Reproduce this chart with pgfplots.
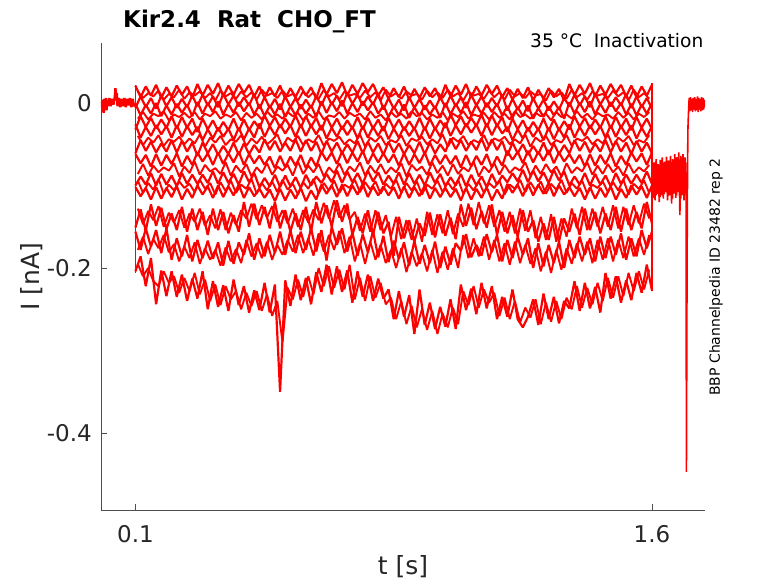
\documentclass[border=0pt]{standalone}
\usepackage{pgfplots}
\usepackage{pgfplotstable}
\pgfplotsset{compat=1.18}
\usepackage{fontspec}
\setmainfont{DejaVu Sans}
\definecolor{axgray}{RGB}{77,77,77}
\definecolor{txtgray}{RGB}{38,38,38}
\pgfplotsset{trace/.style={color=red, line width=2.2pt, line join=bevel, mark=none}}
\begin{document}
% currents in pA, time in ms
\pgfplotstableread{
t A B C D E F G H I J K L
100 21 -6 -1 -32 -26 -61 -62 -100 -102 -151 -156 -204
115 7 8 -15 -16 -42 -45 -73 -89 -113 -129 -178 -186
130 20 -5 -2 -29 -29 -58 -63 -99 -103 -155 -152 -222
145 9 6 -13 -18 -40 -47 -77 -85 -117 -123 -174 -188
160 22 -7 0 -31 -27 -60 -62 -100 -102 -149 -154 -244
175 6 9 -16 -20 -38 -49 -76 -86 -116 -127 -182 -203
190 19 -4 -3 -30 -28 -59 -63 -99 -103 -153 -152 -234
205 8 7 -14 -16 -42 -45 -74 -88 -114 -134 -190 -204
220 21 -6 -1 -31 -27 -60 -61 -101 -101 -154 -164 -235
235 10 5 -12 -17 -41 -46 -77 -85 -117 -126 -186 -208
250 20 -5 -2 -30 -28 -59 -64 -98 -104 -156 -160 -240
265 6 9 -16 -19 -39 -48 -75 -87 -115 -128 -192 -213
280 23 -4 1 -35 -29 -64 -60 -98 -100 -154 -166 -237
295 9 10 -13 -19 -45 -48 -71 -87 -111 -132 -188 -204
310 22 -3 0 -32 -32 -61 -61 -97 -101 -160 -167 -250
325 11 8 -11 -21 -43 -50 -75 -83 -115 -128 -189 -216
340 24 -5 2 -34 -30 -63 -60 -98 -100 -154 -169 -247
355 8 11 -14 -23 -41 -52 -74 -84 -114 -132 -197 -221
370 21 -2 -1 -33 -31 -62 -61 -97 -101 -158 -167 -252
385 10 9 -12 -19 -45 -48 -72 -86 -112 -136 -195 -214
400 23 -4 1 -34 -30 -63 -59 -99 -99 -156 -169 -245
415 12 7 -10 -20 -44 -49 -75 -83 -115 -120 -184 -222
430 22 -3 0 -33 -31 -62 -62 -96 -102 -150 -158 -254
445 8 11 -14 -22 -42 -51 -73 -85 -113 -122 -190 -227
460 20 -7 -2 -31 -25 -60 -64 -102 -104 -148 -164 -251
475 6 7 -16 -15 -41 -44 -75 -91 -115 -126 -186 -218
490 19 -6 -3 -28 -28 -57 -65 -101 -105 -152 -160 -254
505 8 5 -14 -17 -39 -46 -79 -87 -119 -120 -182 -220
520 21 -8 -1 -30 -26 -59 -64 -102 -104 -152 -156 -350
535 5 8 -17 -19 -37 -48 -78 -88 -118 -130 -184 -215
550 18 -5 -4 -29 -27 -58 -65 -101 -105 -156 -154 -246
565 7 6 -15 -15 -41 -44 -76 -90 -116 -134 -182 -208
580 20 -7 -2 -30 -26 -59 -63 -103 -103 -154 -156 -239
595 9 4 -13 -16 -40 -45 -79 -87 -119 -126 -178 -212
610 19 -6 -3 -29 -27 -58 -66 -100 -106 -156 -152 -244
625 5 8 -17 -18 -38 -47 -77 -89 -117 -120 -180 -205
640 24 -3 2 -33 -27 -62 -59 -97 -99 -146 -154 -229
655 10 11 -12 -17 -43 -46 -70 -86 -110 -124 -191 -196
670 23 -2 1 -30 -30 -59 -60 -96 -100 -150 -150 -232
685 12 9 -10 -19 -41 -48 -74 -82 -114 -118 -172 -198
700 25 -4 3 -32 -28 -61 -59 -97 -99 -144 -152 -229
715 9 12 -13 -21 -39 -50 -73 -83 -113 -122 -180 -203
730 22 -1 0 -31 -29 -60 -60 -96 -100 -160 -157 -242
745 11 10 -11 -17 -43 -46 -71 -85 -111 -138 -185 -204
760 24 -3 2 -32 -28 -61 -58 -98 -98 -158 -159 -235
775 13 8 -9 -18 -42 -47 -74 -82 -114 -130 -181 -208
790 23 -2 1 -31 -29 -60 -61 -95 -101 -160 -155 -240
805 9 12 -13 -20 -40 -49 -72 -84 -112 -132 -187 -213
820 19 -8 -3 -34 -28 -63 -61 -99 -101 -158 -161 -237
835 5 6 -17 -18 -44 -47 -72 -88 -112 -144 -193 -226
850 18 -7 -4 -31 -31 -60 -62 -98 -102 -185 -167 -262
865 7 4 -15 -20 -42 -49 -76 -84 -116 -138 -189 -228
880 20 -9 -2 -33 -29 -62 -61 -99 -101 -164 -169 -259
895 4 7 -18 -22 -40 -51 -75 -85 -115 -142 -197 -233
910 17 -6 -5 -32 -30 -61 -62 -98 -102 -168 -167 -280
925 6 5 -16 -18 -44 -47 -73 -87 -113 -146 -195 -226
940 19 -8 -3 -33 -29 -62 -60 -100 -100 -161 -172 -269
955 8 3 -14 -19 -43 -48 -76 -84 -116 -133 -194 -242
970 18 -7 -4 -32 -30 -61 -63 -97 -103 -163 -168 -274
985 4 7 -18 -21 -41 -50 -74 -86 -114 -135 -200 -247
1000 22 -5 0 -30 -24 -59 -63 -101 -103 -161 -174 -271
1015 8 9 -14 -14 -40 -43 -74 -90 -114 -139 -196 -238
1030 21 -4 -1 -27 -27 -56 -64 -100 -104 -165 -170 -274
1045 10 7 -12 -16 -38 -45 -78 -86 -118 -123 -179 -220
1060 23 -6 1 -29 -25 -58 -63 -101 -103 -149 -159 -251
1075 7 10 -15 -18 -36 -47 -77 -87 -117 -127 -187 -225
1090 20 -3 -2 -28 -26 -57 -64 -100 -104 -153 -172 -256
1105 9 8 -13 -14 -40 -43 -75 -89 -115 -131 -185 -218
1120 22 -5 0 -29 -25 -58 -62 -102 -102 -151 -159 -249
1135 11 6 -11 -15 -39 -44 -78 -86 -118 -123 -181 -222
1150 21 -4 -1 -28 -26 -57 -65 -99 -105 -160 -160 -262
1165 7 10 -15 -17 -37 -46 -76 -88 -116 -132 -192 -235
1180 18 -9 -4 -35 -29 -64 -58 -96 -98 -158 -166 -259
1195 4 5 -18 -19 -45 -48 -69 -85 -109 -136 -188 -226
1210 17 -8 -5 -32 -32 -61 -59 -95 -99 -162 -162 -262
1225 6 3 -16 -21 -43 -50 -73 -81 -113 -130 -184 -272
1240 19 -10 -3 -34 -30 -63 -58 -96 -98 -156 -164 -259
1255 3 6 -19 -23 -41 -52 -72 -82 -112 -142 -200 -238
1270 16 -7 -6 -33 -31 -62 -59 -95 -99 -168 -170 -269
1285 5 4 -17 -19 -45 -48 -70 -84 -110 -146 -198 -231
1300 18 -9 -4 -34 -30 -63 -57 -97 -97 -166 -172 -262
1315 7 2 -15 -20 -44 -49 -73 -81 -113 -138 -194 -235
1330 17 -8 -5 -33 -31 -62 -60 -94 -100 -168 -168 -267
1345 3 6 -19 -22 -42 -51 -71 -83 -111 -140 -200 -240
1360 23 -4 1 -32 -26 -61 -62 -100 -102 -156 -166 -249
1375 9 10 -13 -16 -42 -45 -73 -89 -113 -134 -188 -216
1390 22 -3 0 -29 -29 -58 -63 -99 -103 -160 -162 -252
1405 11 8 -11 -18 -40 -47 -77 -85 -117 -128 -184 -218
1420 24 -5 2 -31 -27 -60 -62 -100 -102 -154 -164 -249
1435 8 11 -14 -20 -38 -49 -76 -86 -116 -132 -192 -223
1450 21 -2 -1 -30 -28 -59 -63 -99 -103 -158 -162 -254
1465 10 9 -12 -16 -42 -45 -74 -88 -114 -134 -188 -206
1480 23 -4 1 -31 -27 -60 -61 -101 -101 -154 -162 -237
1495 12 7 -10 -17 -41 -46 -77 -85 -117 -126 -184 -210
1510 22 -3 0 -30 -28 -59 -64 -98 -104 -156 -158 -242
1525 8 11 -14 -19 -39 -48 -75 -87 -115 -128 -190 -215
1540 21 -6 -1 -33 -27 -62 -60 -98 -100 -154 -164 -239
1555 7 8 -15 -17 -43 -46 -71 -87 -111 -132 -186 -206
1570 20 -5 -2 -30 -30 -59 -61 -97 -101 -152 -154 -230
1585 9 6 -13 -19 -41 -48 -75 -83 -115 -120 -176 -196
1600 22 -7 0 -32 -28 -61 -60 -98 -100 -146 -156 -227
}\main
\pgfplotstableread{
t P Q R S T U V W
107 14 -19 -40 -86 -94 -128 -178 -195
122 6 -11 -51 -74 -109 -147 -162 -210
137 12 -20 -42 -88 -97 -131 -183 -200
152 8 -13 -48 -76 -105 -142 -165 -216
167 15 -16 -39 -84 -92 -125 -176 -222
182 4 -10 -52 -78 -110 -150 -160 -204
197 11 -21 -44 -82 -99 -133 -181 -218
212 7 -14 -47 -73 -106 -145 -171 -210
227 16 -17 -41 -89 -95 -130 -192 -230
242 5 -12 -50 -77 -103 -151 -174 -212
257 13 -18 -43 -85 -98 -134 -188 -228
272 9 -11 -49 -71 -108 -144 -169 -206
287 14 -20 -38 -87 -93 -128 -195 -232
302 6 -13 -53 -75 -104 -149 -176 -214
317 12 -16 -42 -83 -97 -136 -190 -240
332 3 -10 -48 -79 -111 -152 -178 -220
347 15 -19 -40 -86 -96 -129 -197 -245
362 8 -14 -51 -72 -107 -154 -175 -222
377 12 -17 -44 -88 -94 -133 -192 -238
392 5 -11 -47 -76 -109 -148 -177 -228
407 14 -21 -39 -84 -99 -130 -194 -250
422 7 -12 -52 -74 -104 -140 -166 -230
437 13 -18 -43 -89 -92 -122 -186 -246
452 4 -13 -49 -78 -110 -141 -170 -228
467 16 -20 -41 -85 -97 -124 -188 -252
482 9 -10 -50 -73 -106 -139 -168 -232
497 12 -17 -45 -87 -95 -125 -190 -258
512 6 -14 -38 -77 -108 -144 -172 -240
527 15 -19 -53 -82 -93 -130 -184 -290
542 8 -11 -42 -75 -105 -146 -166 -224
557 11 -16 -47 -88 -98 -128 -180 -238
572 3 -12 -40 -71 -111 -150 -160 -214
587 14 -21 -51 -86 -96 -130 -182 -235
602 7 -13 -44 -76 -104 -145 -164 -210
617 13 -18 -48 -84 -92 -129 -185 -232
632 5 -10 -39 -74 -110 -142 -158 -200
647 16 -20 -52 -89 -97 -121 -180 -222
662 8 -15 -43 -78 -106 -140 -160 -198
677 12 -17 -46 -85 -94 -118 -178 -224
692 4 -11 -41 -73 -109 -139 -155 -202
707 14 -19 -50 -87 -99 -124 -182 -226
722 9 -12 -44 -77 -103 -141 -162 -196
737 11 -16 -49 -83 -93 -132 -192 -238
752 6 -13 -38 -72 -108 -155 -170 -212
767 15 -20 -53 -88 -96 -134 -195 -240
782 7 -10 -42 -76 -105 -156 -168 -210
797 13 -18 -47 -85 -95 -130 -190 -236
812 3 -14 -40 -74 -110 -154 -172 -218
827 16 -21 -51 -86 -98 -136 -194 -244
842 8 -11 -45 -78 -104 -162 -178 -236
857 12 -17 -48 -84 -93 -138 -200 -262
872 5 -13 -39 -73 -109 -165 -176 -240
887 14 -19 -52 -89 -97 -142 -205 -268
902 9 -10 -43 -75 -106 -166 -180 -246
917 11 -16 -46 -82 -95 -140 -198 -272
932 4 -12 -41 -77 -111 -168 -182 -250
947 15 -20 -50 -87 -99 -132 -204 -275
962 7 -14 -44 -72 -104 -160 -178 -252
977 13 -18 -49 -85 -94 -135 -206 -280
992 6 -11 -38 -76 -108 -158 -180 -255
1007 16 -21 -53 -88 -96 -130 -202 -272
1022 8 -13 -42 -74 -105 -159 -176 -248
1037 12 -17 -47 -86 -93 -134 -200 -268
1052 3 -10 -40 -78 -110 -150 -160 -228
1067 14 -19 -51 -83 -98 -122 -188 -245
1082 9 -14 -45 -71 -106 -148 -164 -222
1097 11 -16 -48 -89 -95 -120 -186 -248
1112 5 -12 -39 -77 -109 -146 -162 -226
1127 15 -20 -52 -84 -97 -124 -190 -242
1142 7 -11 -43 -73 -103 -150 -166 -230
1157 13 -18 -46 -87 -94 -130 -192 -258
1172 4 -13 -41 -75 -111 -156 -170 -236
1187 16 -20 -50 -85 -99 -132 -196 -262
1202 8 -10 -44 -78 -104 -158 -168 -240
1217 12 -17 -49 -82 -93 -128 -194 -266
1232 6 -14 -38 -72 -108 -155 -172 -248
1247 14 -19 -53 -88 -96 -130 -195 -260
1262 9 -12 -42 -76 -106 -164 -176 -238
1277 11 -16 -47 -86 -95 -138 -204 -268
1292 3 -13 -40 -74 -110 -166 -180 -242
1307 15 -21 -51 -84 -98 -135 -206 -265
1322 8 -11 -45 -77 -105 -168 -178 -240
1337 13 -17 -48 -89 -93 -140 -202 -262
1352 5 -14 -39 -73 -109 -162 -176 -236
1367 16 -19 -52 -85 -97 -128 -195 -250
1382 7 -10 -43 -78 -104 -152 -170 -222
1397 12 -18 -46 -83 -94 -126 -192 -248
1412 4 -13 -41 -72 -110 -154 -168 -224
1427 14 -20 -50 -87 -99 -128 -194 -244
1442 9 -12 -44 -76 -103 -150 -166 -218
1457 11 -16 -49 -86 -95 -126 -190 -240
1472 6 -14 -38 -74 -108 -150 -164 -212
1487 15 -19 -53 -84 -96 -124 -192 -236
1502 8 -11 -42 -77 -106 -152 -166 -210
1517 13 -18 -47 -88 -93 -126 -188 -234
1532 3 -12 -40 -73 -111 -148 -162 -206
1547 16 -20 -51 -85 -98 -124 -186 -228
1562 7 -13 -45 -78 -104 -146 -164 -204
1577 12 -17 -48 -83 -94 -122 -184 -226
1592 5 -11 -39 -75 -109 -140 -160 -202
}\mainb
\pgfplotstableread{
t y
0 2
2 -5
4 4
6 -8
8 -12
10 5
12 -6
14 6
16 -9
18 4
20 -4
24 6
28 -4
32 5
36 -2
40 7
42 18
44 3
46 12
48 -4
52 6
56 -5
60 5
64 -4
68 6
72 -5
76 5
80 -3
84 6
88 -5
92 5
96 -4
100 -1
}\pre
\pgfplotstableread{
t y
100 22
100 -206
}\stepon
\pgfplotstableread{
t y
1600 24
1600 -228
1600 -70
1603 -115
1606 -72
1609 -118
1612 -68
1615 -110
1618 -74
1621 -120
1624 -69
1627 -112
1630 -66
1633 -116
1636 -71
1639 -108
1642 -65
1645 -118
1648 -70
1651 -112
1654 -64
1657 -122
1660 -68
1663 -110
1666 -62
1669 -115
1672 -66
1675 -108
1678 -60
1681 -136
1684 -64
1687 -112
1690 -62
1693 -118
1696 -66
1699 -105
1700 -447
1701.5 -250
1702.5 -140
1703.5 -70
1704.5 -30
1706 -12
1708 6
1710 -10
1712 7
1714 -9
1716 5
1718 -11
1720 6
1722 -8
1724 7
1726 -10
1728 5
1730 -9
1732 8
1734 -11
1736 6
1738 -8
1740 5
1742 -10
1744 7
1746 -9
1748 6
1750 -8
1752 4
1753 -5
}\post
\pgfplotstableread{
t y
1601 -75
1605 -105
1608 -80
1611 -112
1614 -76
1617 -104
1620 -82
1623 -114
1626 -74
1629 -100
1632 -78
1635 -110
1638 -72
1641 -104
1644 -80
1647 -113
1650 -70
1653 -102
1656 -76
1659 -116
1662 -70
1665 -104
1668 -74
1671 -112
1674 -66
1677 -100
1680 -70
1683 -116
1686 -68
1689 -104
1692 -70
1695 -112
1698 -72
}\postb
\begin{tikzpicture}
\useasboundingbox (-101pt,-73pt) rectangle (677pt,510pt);
\begin{axis}[
  at={(0,0)}, anchor=south west,
  scale only axis, width=604pt, height=467pt,
  xmin=0, xmax=1.754, ymin=-0.4933, ymax=0.0727,
  clip mode=individual,
  axis x line*=bottom, axis y line*=left,
  axis line style={-, color=axgray, line width=0.6pt},
  tick align=inside, major tick length=6pt,
  tick style={color=axgray, line width=0.6pt},
  xtick={0.1,1.6}, xticklabels={0.1,1.6},
  ytick={-0.4,-0.2,0}, yticklabels={-0.4,-0.2,0},
  ticklabel style={font=\fontsize{23}{23}\selectfont, text=txtgray},
  xticklabel style={inner sep=0pt, yshift=-15pt},
  yticklabel style={inner sep=0pt, xshift=-9pt},
  xlabel={t [s]}, ylabel={I [nA]},
  label style={font=\fontsize{25}{25}\selectfont, text=txtgray},
  xlabel style={at={(axis description cs:0.5,-0.139)}, anchor=base},
  ylabel style={at={(axis description cs:-0.101,0.5)}, anchor=base, rotate=0},
]
\pgfplotsinvokeforeach{A,B,C,D,E,F,G,H,I,J,K,L}{
  \addplot[trace] table[x expr=\thisrow{t}/1000, y expr=\thisrow{#1}/1000]{\main};
}
\pgfplotsinvokeforeach{P,Q,R,S,T,U,V,W}{
  \addplot[trace, line width=1.9pt] table[x expr=\thisrow{t}/1000, y expr=\thisrow{#1}/1000]{\mainb};
}
\addplot[trace, line width=2.4pt] table[x expr=\thisrow{t}/1000, y expr=\thisrow{y}/1000]{\pre};
\addplot[trace, line width=1.2pt] table[x expr=\thisrow{t}/1000, y expr=\thisrow{y}/1000]{\stepon};
\addplot[trace, line width=1.6pt] table[x expr=\thisrow{t}/1000, y expr=\thisrow{y}/1000]{\post};
\addplot[trace, line width=2pt] table[x expr=\thisrow{t}/1000, y expr=\thisrow{y}/1000]{\postb};
\node[anchor=base west, font=\bfseries\fontsize{23}{23}\selectfont, text=black, inner sep=0pt]
  at (rel axis cs:0.0364,1.034) {Kir2.4\ \ Rat\ \ CHO\_FT};
\node[anchor=base east, font=\fontsize{18.6}{18.6}\selectfont, text=black, inner sep=0pt]
  at (rel axis cs:0.9975,0.9908) {35 °C\ \ Inactivation};
\node[anchor=base, rotate=90, font=\fontsize{14}{14}\selectfont, text=black, inner sep=0pt]
  at (rel axis cs:1.0248,0.499) {BBP Channelpedia ID 23482 rep 2};
\end{axis}
\end{tikzpicture}
\end{document}
